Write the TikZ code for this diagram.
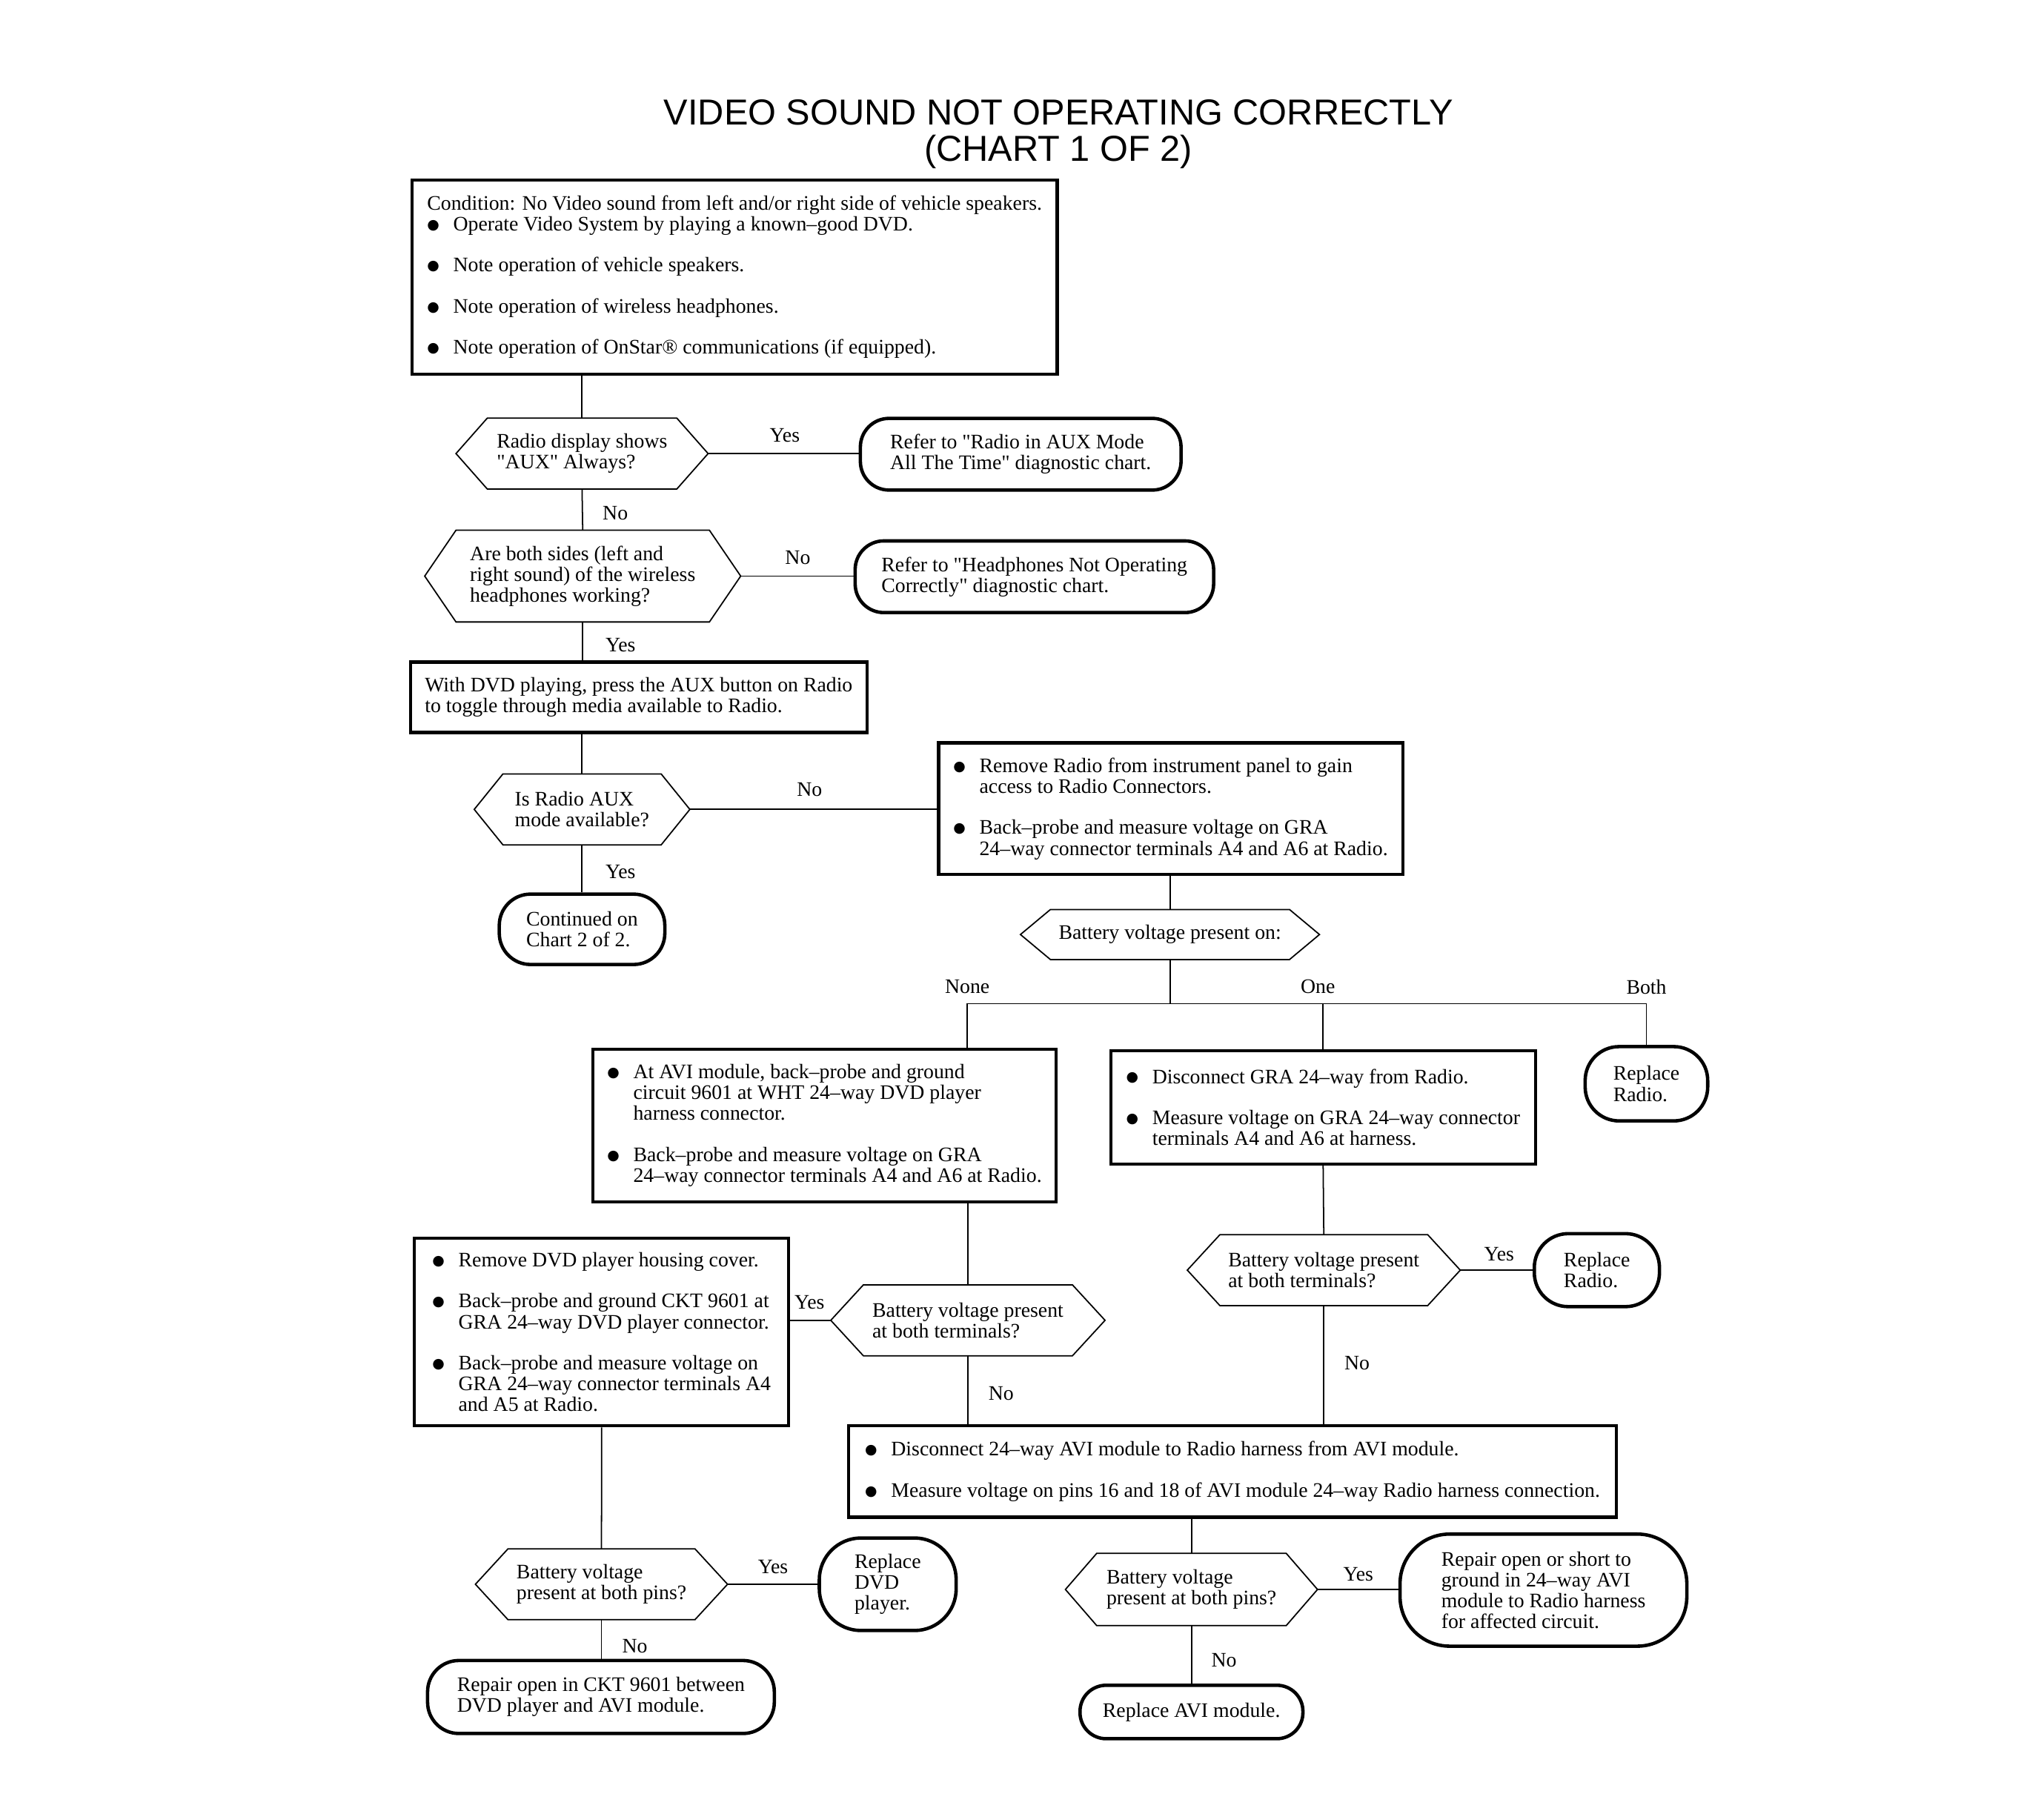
\documentclass[tikz,border=0pt]{standalone}
\usepackage{fontspec}
\newfontfamily\bodyfont{Liberation Serif}
\newfontfamily\titlefont{Liberation Sans}
\newfontfamily\bulfont{DejaVu Sans}[Scale=0.68]
\newcommand\fs{\bodyfont\fontsize{15.8pt}{16pt}\selectfont}
\newcommand\bu{\makebox[20pt][l]{\raisebox{1.2pt}{\bulfont ●}}}
\newcommand\bind{\hspace*{20pt}}
\newcommand\gap{\\[15.5pt]}
\newcommand\hexshape[2]{\draw[hexline] (#1.west) -- ([xshift=#2]#1.north west) -- ([xshift=-#2]#1.north east) -- (#1.east) -- ([xshift=-#2]#1.south east) -- ([xshift=#2]#1.south west) -- cycle;}
\begin{document}
\begin{tikzpicture}[x=1pt,y=-1pt,
  box/.style={draw, line width=2.4pt, inner sep=0pt, align=left, font=\fs},
  term/.style={draw, line width=2.6pt, rounded corners=#1, inner sep=0pt, align=left, font=\fs},
  hexn/.style={inner sep=0pt, align=left, font=\fs},
  hexline/.style={line width=1pt, line join=miter},
  lbl/.style={inner sep=0pt, font=\fs},
  conn/.style={line width=1pt}]
\useasboundingbox (0,0) rectangle (1568,1389);

% title
\node[align=center, inner sep=0pt, font={\titlefont\fontsize{27.7pt}{28pt}\selectfont}] (title) at (812,103)
  {VIDEO SOUND NOT OPERATING CORRECTLY\\(CHART 1 OF 2)};

% nodes
\node[box, minimum width=495, minimum height=149] (b1) at (563.5,212.5)
  {Condition: No Video sound from left and/or right side of vehicle speakers.\\
   \bu Operate Video System by playing a known–good DVD.\gap
   \bu Note operation of vehicle speakers.\gap
   \bu Note operation of wireless headphones.\gap
   \bu Note operation of OnStar® communications (if equipped).};

\node[hexn, minimum width=193, minimum height=54] (h1) at (446.5,348)
  {Radio display shows\\"AUX" Always?};
\hexshape{h1}{24}

\node[term=22, minimum width=246, minimum height=55] (t1) at (783,348.5)
  {Refer to "Radio in AUX Mode\\All The Time" diagnostic chart.};

\node[hexn, minimum width=242, minimum height=70] (h2) at (447,442)
  {Are both sides (left and\\right sound) of the wireless\\headphones working?};
\hexshape{h2}{24}

\node[term=22, minimum width=275, minimum height=55] (t2) at (793.5,442.5)
  {Refer to "Headphones Not Operating\\Correctly" diagnostic chart.};

\node[box, minimum width=350, minimum height=54] (b2) at (490,535)
  {With DVD playing, press the AUX button on Radio\\to toggle through media available to Radio.};

\node[hexn, minimum width=165, minimum height=54] (h3) at (446.5,621)
  {Is Radio AUX\\mode available?};
\hexshape{h3}{22}

\node[box, minimum width=356, minimum height=101] (b3) at (898,620.5)
  {\bu Remove Radio from instrument panel to gain\\
   \bind access to Radio Connectors.\gap
   \bu Back–probe and measure voltage on GRA\\
   \bind 24–way connector terminals A4 and A6 at Radio.};

\node[term=24, minimum width=127, minimum height=54] (t3) at (446.5,713)
  {Continued on\\Chart 2 of 2.};

\node[hexn, align=center, minimum width=229, minimum height=38] (h4) at (897.5,717)
  {Battery voltage present on:};
\hexshape{h4}{23}

\node[box, minimum width=355, minimum height=117] (b4) at (632.5,863.5)
  {\bu At AVI module, back–probe and ground\\
   \bind circuit 9601 at WHT 24–way DVD player\\
   \bind harness connector.\gap
   \bu Back–probe and measure voltage on GRA\\
   \bind 24–way connector terminals A4 and A6 at Radio.};

\node[box, minimum width=326, minimum height=87] (b5) at (1015,849.5)
  {\bu Disconnect GRA 24–way from Radio.\gap
   \bu Measure voltage on GRA 24–way connector\\
   \bind terminals A4 and A6 at harness.};

\node[term=26, minimum width=94, minimum height=57] (t4) at (1263,831.5)
  {Replace\\Radio.};

\node[hexn, minimum width=210, minimum height=54] (h5) at (742.5,1013)
  {Battery voltage present\\at both terminals?};
\hexshape{h5}{25}

\node[hexn, minimum width=209, minimum height=54] (h6) at (1015.5,974.5)
  {Battery voltage present\\at both terminals?};
\hexshape{h6}{25}

\node[term=26, minimum width=96, minimum height=56] (t5) at (1225,974.5)
  {Replace\\Radio.};

\node[box, minimum width=287, minimum height=144] (b6) at (461.5,1022)
  {\bu Remove DVD player housing cover.\gap
   \bu Back–probe and ground CKT 9601 at\\
   \bind GRA 24–way DVD player connector.\gap
   \bu Back–probe and measure voltage on\\
   \bind GRA 24–way connector terminals A4\\
   \bind and A5 at Radio.};

\node[box, minimum width=589, minimum height=70] (b7) at (945.5,1129)
  {\bu Disconnect 24–way AVI module to Radio harness from AVI module.\gap
   \bu Measure voltage on pins 16 and 18 of AVI module 24–way Radio harness connection.};

\node[hexn, minimum width=193, minimum height=54] (h7) at (461.4,1215.5)
  {Battery voltage\\present at both pins?};
\hexshape{h7}{25}

\node[term=32, minimum width=105, minimum height=71] (t6) at (681,1215.5)
  {Replace\\DVD\\player.};

\node[term=24, minimum width=266, minimum height=56] (t7) at (461,1302)
  {Repair open in CKT 9601 between\\DVD player and AVI module.};

\node[hexn, minimum width=193, minimum height=55] (h8) at (914,1219.5)
  {Battery voltage\\present at both pins?};
\hexshape{h8}{24}

\node[term=38, minimum width=220, minimum height=86] (t8) at (1184,1220)
  {Repair open or short to\\ground in 24–way AVI\\module to Radio harness\\for affected circuit.};

\node[term=20, minimum width=171, minimum height=41] (t9) at (914,1313.5)
  {Replace AVI module.};

% connectors
\draw[conn] (h1.north) -- (h1.north |- b1.south);
\draw[conn] (h1.east) -- (h1.east -| t1.west);
\draw[conn] (h1.south) -- (h2.north);
\draw[conn] (h2.east) -- (h2.east -| t2.west);
\draw[conn] (h2.south) -- (h2.south |- b2.north);
\draw[conn] (h3.north) -- (h3.north |- b2.south);
\draw[conn] (h3.east) -- (h3.east -| b3.west);
\draw[conn] (h3.south) -- (t3.north);
\draw[conn] (h4.north) -- (h4.north |- b3.south);
\coordinate (j) at (897.5,770);
\coordinate (jn) at ([xshift=109.5pt]b4.north);
\draw[conn] (h4.south) -- (j);
\draw[conn] (jn) |- (j) -| (t4.north);
\draw[conn] (b5.north) -- (b5.north |- j);
\draw[conn] (h5.north) -- (h5.north |- b4.south);
\draw[conn] (b5.south) -- (h6.north);
\draw[conn] (h5.west) -- (h5.west -| b6.east);
\draw[conn] (h6.east) -- (h6.east -| t5.west);
\draw[conn] (h5.south) -- (h5.south |- b7.north);
\draw[conn] (h6.south) -- (h6.south |- b7.north);
\draw[conn] (b6.south) -- (h7.north);
\draw[conn] (h7.east) -- (h7.east -| t6.west);
\draw[conn] (h7.south) -- (h7.south |- t7.north);
\draw[conn] (h8.north) -- (h8.north |- b7.south);
\draw[conn] (h8.east) -- (h8.east -| t8.west);
\draw[conn] (h8.south) -- (h8.south |- t9.north);

% labels
\node[lbl] (l1) at (602,334) {Yes};
\node[lbl] (l2) at (472,394) {No};
\node[lbl] (l3) at (612,428) {No};
\node[lbl] (l4) at (476,495) {Yes};
\node[lbl] (l5) at (621,606) {No};
\node[lbl] (l6) at (476,669) {Yes};
\node[lbl] (l7) at (742,757) {None};
\node[lbl] (l8) at (1011,757) {One};
\node[lbl] (l9) at (1263,757) {Both};
\node[lbl] (l10) at (621,999) {Yes};
\node[lbl] (l11) at (768,1069) {No};
\node[lbl] (l12) at (1150,962) {Yes};
\node[lbl] (l13) at (1041,1046) {No};
\node[lbl] (l14) at (593,1202) {Yes};
\node[lbl] (l15) at (487,1263) {No};
\node[lbl] (l16) at (1042,1208) {Yes};
\node[lbl] (l17) at (939,1274) {No};
\end{tikzpicture}
\end{document}
